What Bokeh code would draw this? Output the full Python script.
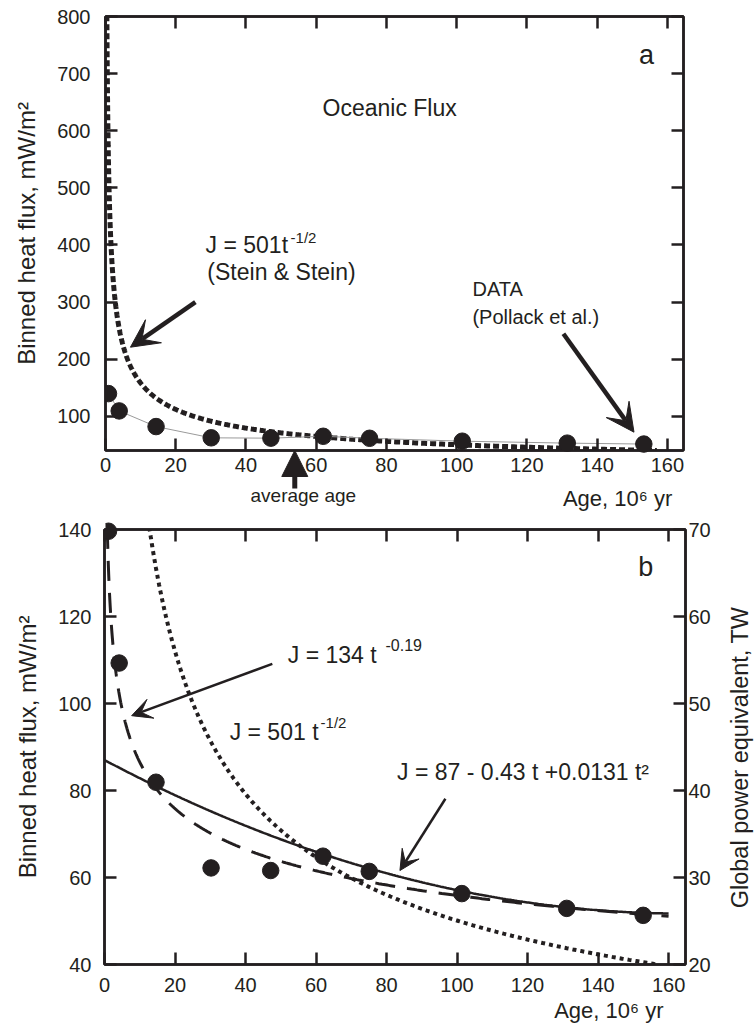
import math
import numpy as np
from bokeh.plotting import figure
from bokeh.models import Range1d, LinearAxis, FixedTicker, Label, Arrow, VeeHead, NormalHead
from bokeh.layouts import column, row
from bokeh.embed import file_html
from bokeh.resources import INLINE

INK = "#231f20"
FONT = "Liberation Sans"

# ---- data (binned oceanic heat flux, Pollack et al.) ----
age = [0.85, 3.9, 14.4, 30.1, 47.1, 62.0, 75.2, 101.6, 131.5, 153.3]
flux = [139.6, 109.3, 81.9, 62.2, 61.6, 64.9, 61.4, 56.3, 52.9, 51.3]
average_age = 53.9

# ---- model curves shown on the chart ----
stein_coef, stein_exp = 501.0, -0.5          # J = 501 t^-1/2
power_coef, power_exp = 134.0, -0.19         # J = 134 t^-0.19
quad_coef = [87.0, -0.43, 0.00131]           # J = 87 - 0.43 t + c t^2

# ---- ticks ----
x_ticks = [0, 20, 40, 60, 80, 100, 120, 140, 160]
top_y_ticks = [100, 200, 300, 400, 500, 600, 700, 800]
bot_y_ticks = [40, 60, 80, 100, 120, 140]
tw_ticks = [20, 30, 40, 50, 60, 70]

# ---- panel geometry (canvas borders in px) ----
W = 754
A_H, A_L, A_R, A_T, A_B = 511, 105, 71, 16, 61
B_H, B_L, B_R, B_T, B_B = 515, 104, 69, 18, 62
A_X, A_Y = (0, 164.6), (40, 800)
B_X, B_Y = (0, 164.8), (40, 140)


def style_axis(ax, ticks, labels=True, size="20px", standoff=0):
    ax.ticker = FixedTicker(ticks=ticks)
    ax.minor_tick_line_color = None
    ax.major_tick_in = 12
    ax.major_tick_out = 0
    ax.major_tick_line_width = 2.5
    ax.major_tick_line_color = INK
    ax.axis_line_width = 2.5
    ax.axis_line_color = INK
    ax.major_label_text_font = FONT
    if labels:
        ax.major_label_text_color = INK
        ax.major_label_text_font_size = size
        ax.major_label_standoff = standoff
    else:
        ax.major_label_text_color = None
        ax.major_label_text_font_size = "0px"
        ax.major_label_standoff = 0
    ax.axis_label_text_font = FONT
    ax.axis_label_text_font_style = "normal"
    ax.axis_label_text_color = INK
    ax.axis_label_text_font_size = "24px"
    return ax


def bare(p, outline=True):
    p.xgrid.visible = False
    p.ygrid.visible = False
    if outline:
        p.outline_line_color = INK
        p.outline_line_width = 2.5
        p.background_fill_color = "white"
        p.border_fill_color = "white"
    else:
        p.outline_line_color = None
        p.background_fill_color = None
        p.border_fill_color = None
    return p


def make_fig(h, xr, yr, bl, br, bt, bb):
    p = figure(width=W, height=h, x_range=Range1d(*xr), y_range=Range1d(*yr),
               output_backend="svg", toolbar_location=None,
               x_axis_location=None, y_axis_location=None,
               min_border_left=bl, min_border_right=br,
               min_border_top=bt, min_border_bottom=bb)
    return bare(p)


def overlay(h, xr, yr, bl, br, bt, bb):
    # transparent sheet laid over a whole panel: same x scale, y scale
    # continued over the top and bottom borders (marks there are not cut off)
    ky = (yr[1] - yr[0]) / (h - bt - bb)
    p = figure(width=W, height=h, x_range=Range1d(*xr),
               y_range=Range1d(yr[0] - bb * ky, yr[1] + bt * ky),
               output_backend="svg", toolbar_location=None,
               x_axis_location=None, y_axis_location=None,
               min_border_left=bl, min_border_right=br,
               min_border_top=0, min_border_bottom=0, margin=(-h, 0, 0, 0))
    return bare(p, outline=False)


def lab(p, x, y, text, size=23, align="left", **kw):
    p.add_layout(Label(x=x, y=y, text=text, text_font=FONT, text_font_size=f"{size}px",
                       text_color=INK, text_align=align, text_baseline="alphabetic",
                       y_offset=round(0.34 * size), **kw))


# ================= panel a =================
p1 = make_fig(A_H, A_X, A_Y, A_L, A_R, A_T, A_B)
la = style_axis(LinearAxis(), top_y_ticks, True, "20px", 15)
la.axis_label = "Binned heat flux, mW/m²"
la.axis_label_standoff = 14
p1.add_layout(la, "left")
p1.add_layout(style_axis(LinearAxis(), x_ticks, True, "20px", 7), "below")
p1.add_layout(style_axis(LinearAxis(), x_ticks, False), "above")
p1.add_layout(style_axis(LinearAxis(), top_y_ticks, False), "right")

t1 = np.geomspace(0.39, 157, 900)
p1.line(t1, stein_coef * t1 ** stein_exp, line_width=5, line_dash="6 3", color=INK)
p1.line(age, flux, line_width=1, color="#9a9a9a")

lab(p1, 61.8, 626.6, "Oceanic Flux")
lab(p1, 154.1, 717.2, "a", size=27, align="center")
lab(p1, 28.5, 386.2, "J = 501t")
lab(p1, 52.7, 404.3, "-1/2", size=15)
lab(p1, 29.0, 337.7, "(Stein & Stein)")
lab(p1, 104.5, 310.2, "DATA", size=20)
lab(p1, 104.5, 260.7, "(Pollack et al.)", size=20)

p1.add_layout(Arrow(end=VeeHead(size=28, fill_color=INK, line_color=INK),
                    x_start=25.6, y_start=299.7, x_end=7.1, y_end=220.9,
                    line_width=4.5, line_color=INK))
p1.add_layout(Arrow(end=VeeHead(size=28, fill_color=INK, line_color=INK),
                    x_start=130.4, y_start=244.4, x_end=150.5, y_end=72.1,
                    line_width=4.5, line_color=INK))

o1 = overlay(A_H, A_X, A_Y, A_L, A_R, A_T, A_B)
o1.scatter(age, flux, size=16.5, color=INK)
o1.add_layout(Arrow(end=NormalHead(size=26, fill_color=INK, line_color=INK),
                    x_start=average_age, y_start=-26.5, x_end=average_age, y_end=40.0,
                    line_width=5, line_color=INK))
lab(o1, 41.3, -49.2, "average age", size=19)
lab(o1, 161.4, -56.2, "Age, 10⁶ yr", size=22, align="right")

# ================= panel b =================
p2 = make_fig(B_H, B_X, B_Y, B_L, B_R, B_T, B_B)
p2.extra_y_ranges = {"tw": Range1d(20, 70)}
lb = style_axis(LinearAxis(), bot_y_ticks, True, "20px", 13)
lb.axis_label = "Binned heat flux, mW/m²"
lb.axis_label_standoff = 14
p2.add_layout(lb, "left")
p2.add_layout(style_axis(LinearAxis(), x_ticks, True, "20px", 13), "below")
p2.add_layout(style_axis(LinearAxis(), x_ticks, False), "above")
p2.add_layout(style_axis(LinearAxis(y_range_name="tw"), tw_ticks, True, "20px", 3), "right")

t2 = np.geomspace(0.39, 157, 900)
p2.line(t2, stein_coef * t2 ** stein_exp, line_width=4, line_dash="4 4", color=INK)
t3 = np.geomspace(0.79, 160, 900)
p2.line(t3, power_coef * t3 ** power_exp, line_width=3, line_dash="20 12", color=INK)
t4 = np.linspace(0, 160, 400)
p2.line(t4, quad_coef[0] + quad_coef[1] * t4 + quad_coef[2] * t4 ** 2, line_width=2.5, color=INK)

lab(p2, 153.5, 129.4, "b", size=27, align="center")
lab(p2, 52.0, 109.4, "J = 134 t")
lab(p2, 79.7, 112.3, "-0.19", size=16)
lab(p2, 35.5, 91.7, "J = 501 t")
lab(p2, 61.3, 94.4, "-1/2", size=15)
lab(p2, 83.0, 82.3, "J = 87 - 0.43 t +0.0131 t²")

p2.add_layout(Arrow(end=VeeHead(size=20, fill_color=INK, line_color=INK),
                    x_start=47.6, y_start=109.1, x_end=7.7, y_end=97.2,
                    line_width=2.5, line_color=INK))
p2.add_layout(Arrow(end=VeeHead(size=20, fill_color=INK, line_color=INK),
                    x_start=96.7, y_start=78.1, x_end=83.8, y_end=61.6,
                    line_width=2.5, line_color=INK))

# strip over panel b's right border: right-hand axis title, read bottom to top
r2 = figure(width=B_R, height=B_H, x_range=Range1d(0, B_R), y_range=Range1d(*B_Y),
            output_backend="svg", toolbar_location=None,
            x_axis_location=None, y_axis_location=None,
            min_border_left=0, min_border_right=0,
            min_border_top=B_T, min_border_bottom=B_B, margin=(0, 0, 0, -B_R))
bare(r2, outline=False)
r2.add_layout(Label(x=54.5, y=87.6, text="Global power equivalent, TW", angle=math.pi / 2,
                    text_font=FONT, text_font_size="23.5px", text_color=INK,
                    text_align="center", text_baseline="middle"))

o2 = overlay(B_H, B_X, B_Y, B_L, B_R, B_T, B_B)
o2.scatter(age, flux, size=16.5, color=INK)
lab(o2, 159.1, 27.8, "Age, 10⁶ yr", size=22, align="right")

layout = column(p1, o1, row(p2, r2, spacing=0), o2, spacing=0)
open("out.html", "w").write(file_html(layout, INLINE))
